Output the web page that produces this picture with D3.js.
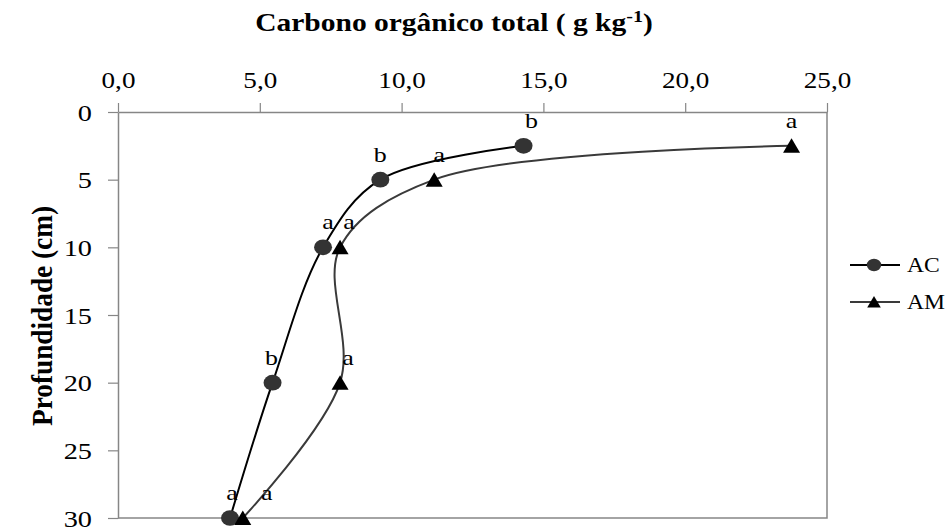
<!DOCTYPE html>
<html>
<head>
<meta charset="utf-8">
<script src="https://cdn.jsdelivr.net/npm/d3@7"></script>
<style>
  body { margin: 0; background: #fff; }
  svg { display: block; }
  svg text { font-family: "Times New Roman", "Liberation Serif", "DejaVu Serif", serif; }
</style>
</head>
<body>
<svg id="chart" width="950" height="529"></svg>
<script>
// Depth of each sampling layer (cm)
const depths = [2.5, 5, 10, 20, 30];
// Total organic carbon (g kg-1) per treatment
const acValues = [14.3, 9.25, 7.23, 5.45, 3.95];
const amValues = [23.75, 11.15, 7.83, 7.83, 4.4];
// Significance letters shown beside each point
const acLetters = ["b", "b", "a", "b", "a"];
const amLetters = ["a", "a", "a", "a", "a"];
const seriesNames = ["AC", "AM"];
const xTicks = [0, 5, 10, 15, 20, 25];
const yTicks = [0, 5, 10, 15, 20, 25, 30];

const serif = '"Times New Roman", "Liberation Serif", "DejaVu Serif", serif';
const wide = 1.18; // horizontal glyph stretch used for all text
const svg = d3.select("#chart");
const plot = { left: 118, right: 827, top: 112, bottom: 518 };

const x = d3.scaleLinear().domain([0, 25]).range([plot.left, plot.right]);
const y = d3.scaleLinear().domain([0, 30]).range([plot.top, plot.bottom]);

const axisColor = "#868686";
const fmt = d => d.toFixed(1).replace(".", ",");

// Plot frame: right and bottom edges
svg.append("path")
  .attr("d", `M${plot.right},${plot.top}V${plot.bottom}H${plot.left}`)
  .attr("fill", "none").attr("stroke", axisColor).attr("stroke-width", 1.5);

// Top value axis
const gx = svg.append("g").attr("transform", `translate(0,${plot.top})`)
  .call(d3.axisTop(x).tickValues(xTicks).tickFormat(fmt).tickSize(9).tickSizeOuter(0))
  .attr("font-family", serif);
gx.select(".domain").attr("stroke", axisColor).attr("stroke-width", 1.5);
gx.selectAll(".tick line").attr("stroke", axisColor).attr("stroke-width", 1.2);
gx.selectAll(".tick text").attr("font-size", 23).attr("fill", "#000")
  .attr("y", -24).attr("dy", 0)
  .attr("transform", `scale(${wide},1)`);

// Left depth axis
const gy = svg.append("g").attr("transform", `translate(${plot.left},0)`)
  .call(d3.axisLeft(y).tickValues(yTicks).tickSize(10).tickSizeOuter(0))
  .attr("font-family", serif);
gy.select(".domain").attr("stroke", axisColor).attr("stroke-width", 1.5);
gy.selectAll(".tick line").attr("stroke", axisColor).attr("stroke-width", 1.2);
gy.selectAll(".tick text").attr("font-size", 24).attr("fill", "#000")
  .attr("x", -26 / wide).attr("dy", "0.34em")
  .attr("transform", `scale(${wide},1)`);

// Chart title
const title = svg.append("g").attr("transform", `translate(454,31) scale(${wide},1)`)
  .append("text").attr("text-anchor", "middle").attr("font-size", 25).attr("font-weight", "bold");
title.append("tspan").text("Carbono orgânico total ( g kg");
title.append("tspan").attr("dy", -9).attr("font-size", 17).text("-1");
title.append("tspan").attr("dy", 9).text(")");

// Depth axis title
svg.append("text")
  .attr("transform", `translate(52,316) rotate(-90) scale(1,${wide})`)
  .attr("text-anchor", "middle").attr("font-size", 25).attr("font-weight", "bold")
  .attr("textLength", 220).attr("lengthAdjust", "spacingAndGlyphs")
  .text("Profundidade (cm)");

const line = d3.line()
  .x(d => x(d.v)).y(d => y(d.d))
  .curve(d3.curveCatmullRom.alpha(0.5));

const series = [
  { name: seriesNames[0], values: acValues, letters: acLetters, stroke: "#000", marker: "circle", fill: "#333",
    nudge: [8, 0, 5, -1, 2] },
  { name: seriesNames[1], values: amValues, letters: amLetters, stroke: "#3a3a3a", marker: "triangle", fill: "#000",
    nudge: [0, 5, 9, 8, 24] }
];

function drawMarker(g, type, fill, s) {
  if (type === "circle") {
    g.append("ellipse").attr("rx", 9 * s).attr("ry", 7.8 * s).attr("fill", fill);
  } else {
    g.append("path").attr("d", `M0,${-7.5 * s}L${8.5 * s},${7 * s}L${-8.5 * s},${7 * s}Z`).attr("fill", fill);
  }
}

series.forEach(s => {
  const pts = depths.map((d, i) => ({ d, v: s.values[i] }));
  svg.append("path").datum(pts).attr("d", line)
    .attr("fill", "none").attr("stroke", s.stroke).attr("stroke-width", 2);

  pts.forEach((p, i) => {
    const g = svg.append("g").attr("transform", `translate(${x(p.v)},${y(p.d)})`);
    drawMarker(g, s.marker, s.fill, 1);
    svg.append("g")
      .attr("transform", `translate(${x(p.v) + s.nudge[i]},${y(p.d) - 18}) scale(${wide},1)`)
      .append("text").attr("text-anchor", "middle").attr("font-size", 22).attr("fill", "#000")
      .text(s.letters[i]);
  });
});

// Legend
const legend = svg.append("g");
series.forEach((s, i) => {
  const ly = 265 + i * 37;
  legend.append("line").attr("x1", 850).attr("x2", 900).attr("y1", ly).attr("y2", ly)
    .attr("stroke", s.stroke).attr("stroke-width", 2);
  const g = legend.append("g").attr("transform", `translate(874,${ly})`);
  drawMarker(g, s.marker, s.fill, 0.8);
  legend.append("g").attr("transform", `translate(907,${ly + 7}) scale(${wide},1)`)
    .append("text").attr("font-size", 20).text(s.name);
});
</script>
</body>
</html>
